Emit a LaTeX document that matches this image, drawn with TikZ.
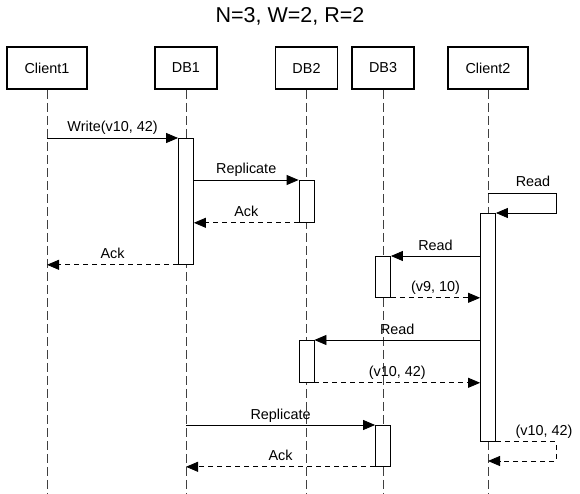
\documentclass[tikz,border=0pt]{standalone}
\usepackage{fontspec}
\setmainfont{Liberation Sans}
\usetikzlibrary{positioning,arrows.meta}
\begin{document}
\begin{tikzpicture}[x=1pt,y=-1pt,line width=.8pt,
font=\fontsize{14.4}{16}\selectfont,
actor/.style={draw,line width=1.6pt,minimum width=80pt,minimum height=42pt,inner sep=0},
act/.style={draw,fill=white,minimum width=15pt,inner sep=0,anchor=north},
life/.style={draw=black!75,line width=1pt,dash pattern=on 9pt off 4pt},
msg/.style={-{Triangle[length=12pt,width=10pt]}},
ret/.style={msg,dash pattern=on 5pt off 4pt},
lbl/.style={anchor=base,yshift=6pt,inner sep=0}]
\useasboundingbox (0,0) rectangle (580,494);
\node (title) [anchor=base] at (290,23) {\fontsize{21.5}{24}\selectfont N=3, W=2, R=2};
\node (client1) [actor] at (47,68) {Client1};
\node (db1) [actor,minimum width=62pt] at (186,68) {DB1};
\node (db2) [actor,minimum width=62pt] at (306.5,68) {DB2};
\node (db3) [actor,minimum width=62pt] at (383,68) {DB3};
\node (client2) [actor] at (488,68) {Client2};
\foreach \n in {client1,db1,db2,db3,client2}
  \draw[life] (\n.south) -- (\n.south |- 0,494);
\node (db1a) [act,minimum height=126pt] at (db1 |- 0,138) {};
\node (db2a) [act,minimum height=42pt] at (db2 |- 0,180) {};
\node (c2a) [act,minimum height=228pt] at (client2 |- 0,213) {};
\node (db3a) [act,minimum height=41pt] at (db3 |- 0,256) {};
\node (db2b) [act,minimum height=42pt] at (db2 |- 0,340) {};
\node (db3b) [act,minimum height=41pt] at (db3 |- 0,425) {};
\draw[msg] (client1 |- db1a.north) -- node[lbl] {Write(v10, 42)} (db1a.north west);
\draw[msg] (db1a.east |- db2a.north) -- node[lbl] {Replicate} (db2a.north west);
\draw[ret] (db2a.south west) -- node[lbl] {Ack} (db1a.east |- db2a.south);
\draw[ret] (db1a.south west) -- node[lbl] {Ack} (client1 |- db1a.south);
\draw[msg] (client2 |- 0,193) -- ++(68,0) |- (c2a.north east);
\node (read0) [lbl] at (533,193) {Read};
\draw[msg] (c2a.west |- db3a.north) -- node[lbl] {Read} (db3a.north east);
\draw[ret] (db3a.south east) -- node[lbl] {(v9, 10)} (c2a.west |- db3a.south);
\draw[msg] (c2a.west |- db2b.north) -- node[lbl] {Read} (db2b.north east);
\draw[ret] (db2b.south east) -- node[lbl] {(v10, 42)} (c2a.west |- db2b.south);
\draw[msg] (db1 |- db3b.north) -- node[lbl] {Replicate} (db3b.north west);
\draw[ret] (db3b.south west) -- node[lbl] {Ack} (db1 |- db3b.south);
\draw[ret] (c2a.south east) -- ++(60,0) |- (client2 |- 0,461);
\node (res0) [lbl] at (544,441) {(v10, 42)};
\end{tikzpicture}
\end{document}
